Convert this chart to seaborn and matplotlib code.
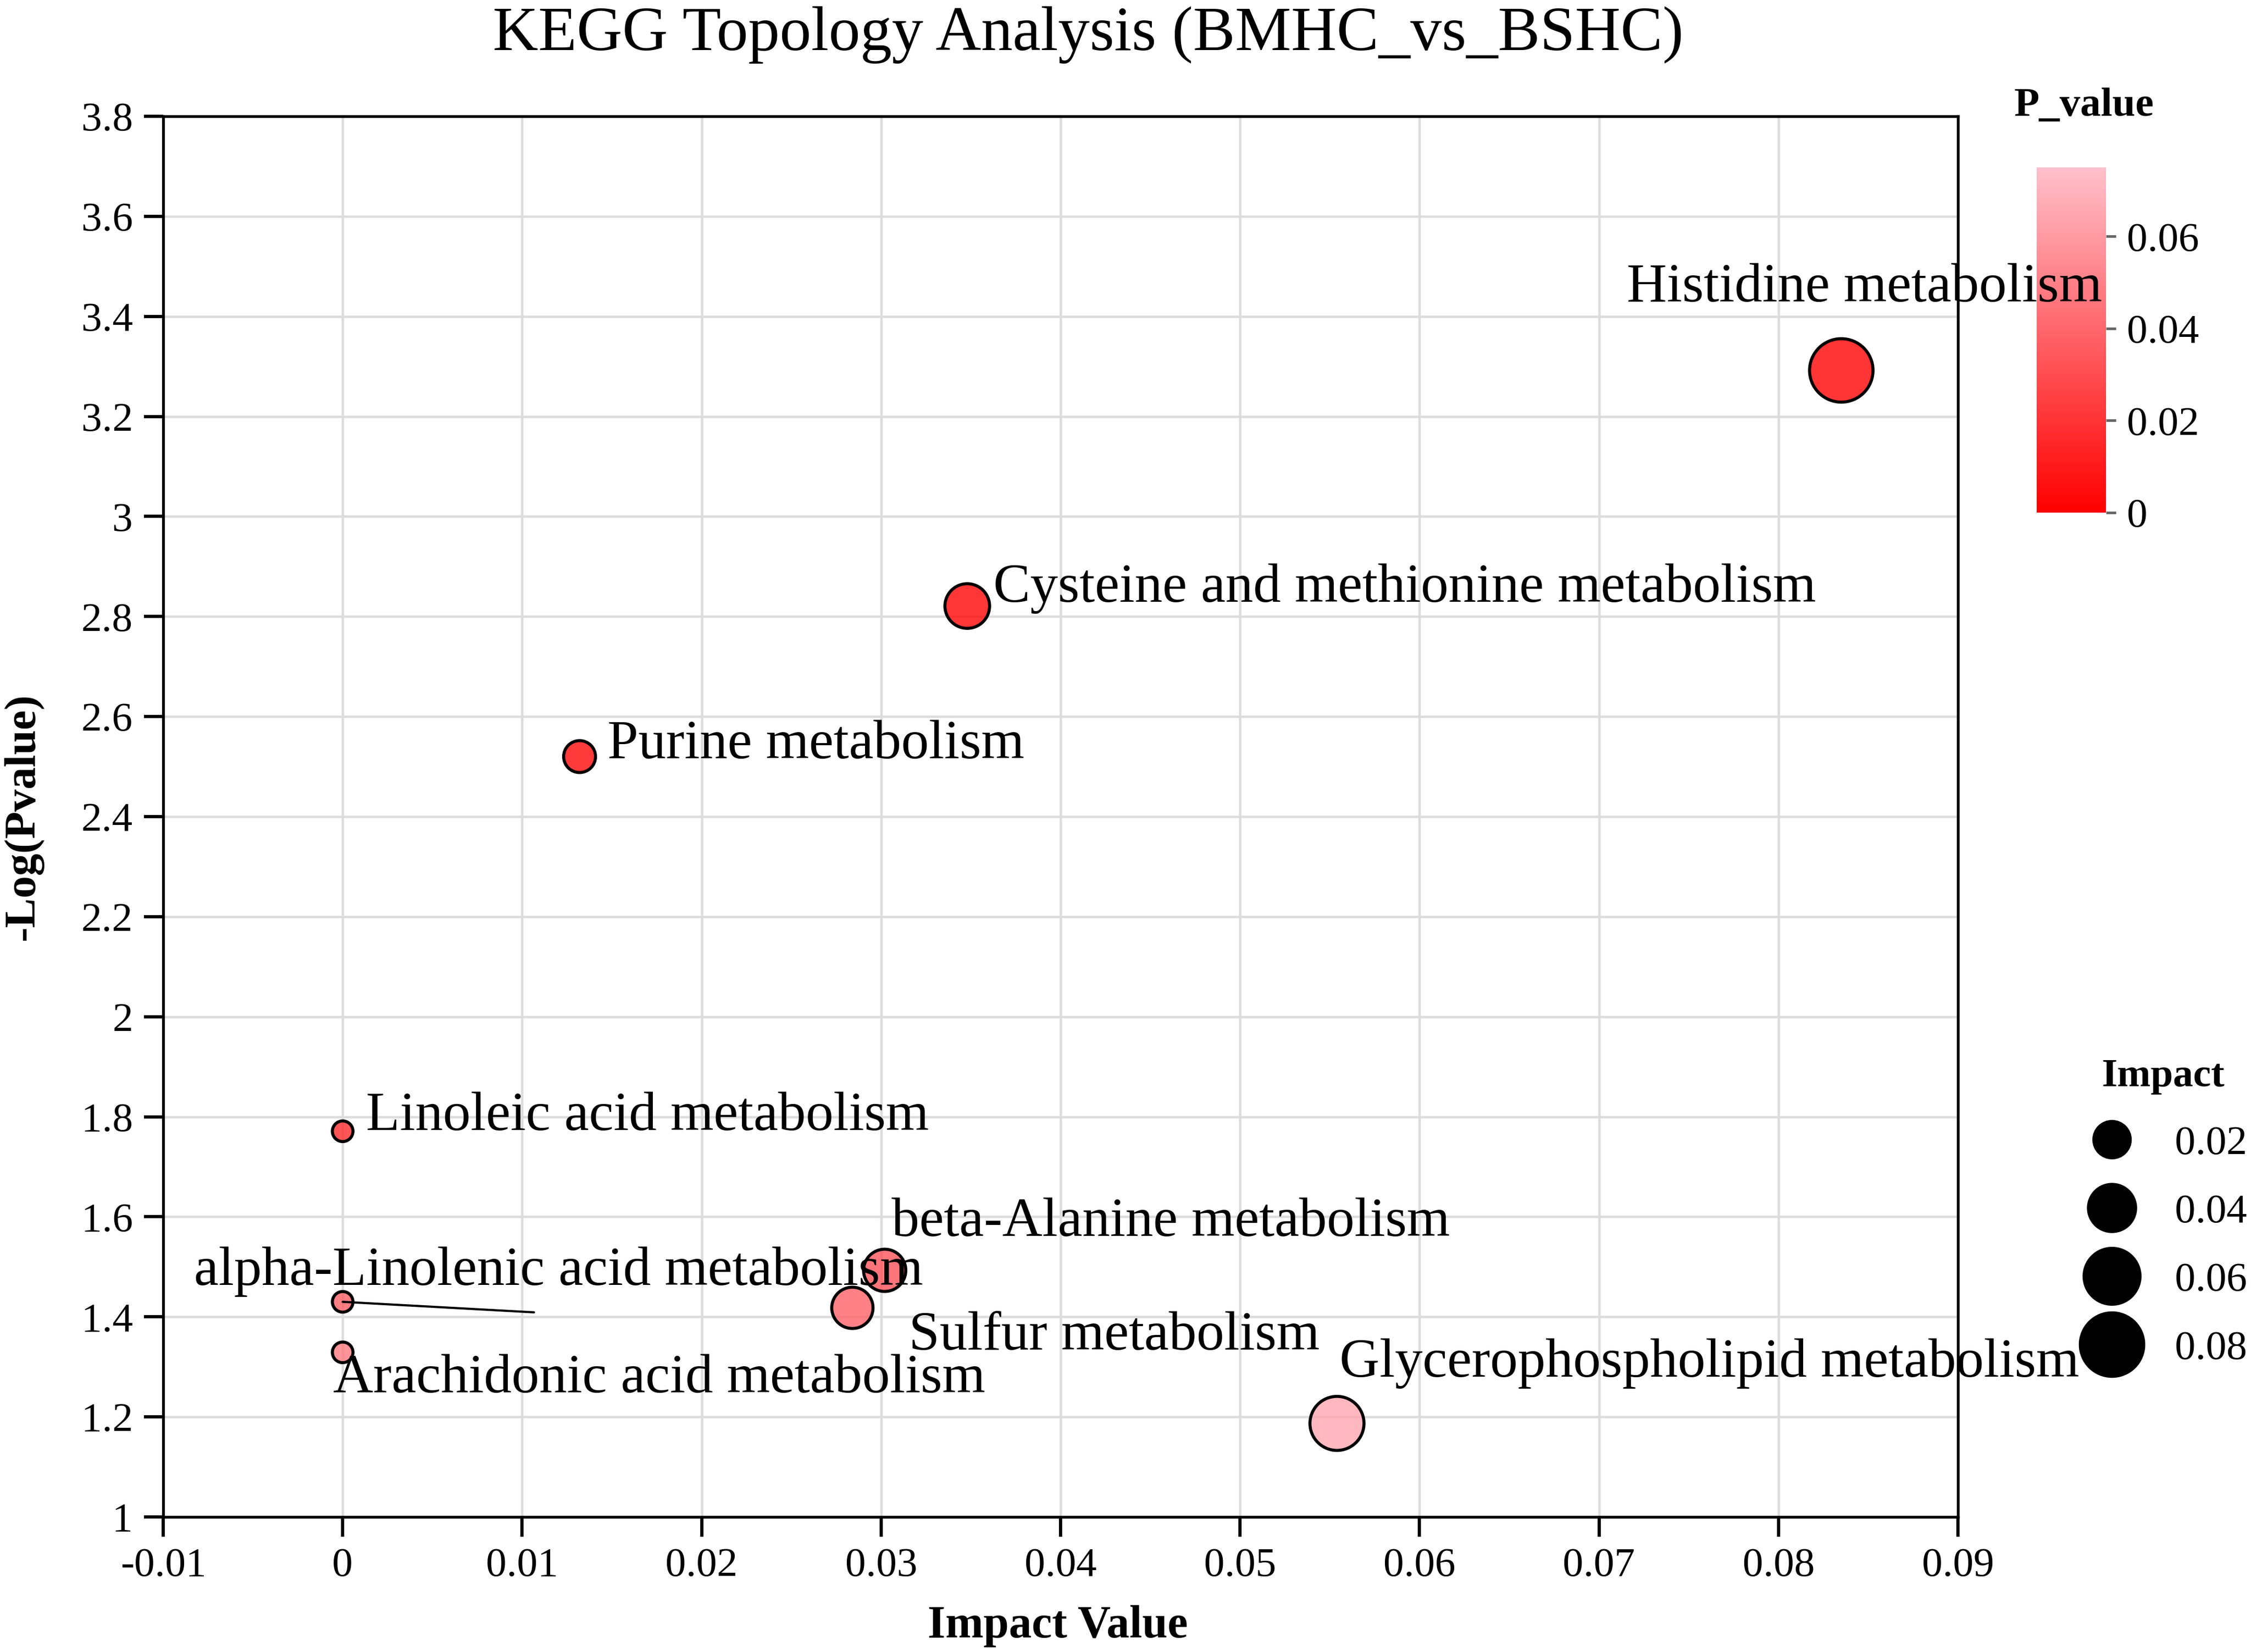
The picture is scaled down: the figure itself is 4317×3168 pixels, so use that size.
import numpy as np
import pandas as pd
import matplotlib
matplotlib.use("Agg")
import matplotlib.pyplot as plt
from matplotlib.colors import LinearSegmentedColormap, Normalize
from matplotlib.cm import ScalarMappable
from matplotlib.lines import Line2D
from matplotlib.ticker import MultipleLocator, FuncFormatter
import seaborn as sns

# valeurs
pathways = [
    "Histidine metabolism",
    "Cysteine and methionine metabolism",
    "Purine metabolism",
    "Linoleic acid metabolism",
    "beta-Alanine metabolism",
    "alpha-Linolenic acid metabolism",
    "Sulfur metabolism",
    "Arachidonic acid metabolism",
    "Glycerophospholipid metabolism",
]
impact = [0.0835, 0.0348, 0.0132, 0.0, 0.0302, 0.0, 0.0284, 0.0, 0.0554]
neg_log_p = [3.292, 2.821, 2.520, 1.771, 1.493, 1.430, 1.418, 1.329, 1.187]
p_value = [0.0005, 0.0015, 0.0030, 0.0169, 0.0321, 0.0372, 0.0382, 0.0469, 0.0650]

legend_impacts = [0.02, 0.04, 0.06, 0.08]
cbar_ticks = [0, 0.02, 0.04, 0.06]

# placement des étiquettes (gauche, ligne de base), en unités des données
label_pos = {
    "Histidine metabolism": (0.07154, 3.430),
    "Cysteine and methionine metabolism": (0.03626, 2.830),
    "Purine metabolism": (0.01474, 2.517),
    "Linoleic acid metabolism": (0.00130, 1.774),
    "beta-Alanine metabolism": (0.03058, 1.562),
    "alpha-Linolenic acid metabolism": (-0.0083, 1.464),
    "Sulfur metabolism": (0.03154, 1.335),
    "Arachidonic acid metabolism": (-0.00054, 1.249),
    "Glycerophospholipid metabolism": (0.05554, 1.280),
}
# segment de rappel (style ggrepel)
segment_end = {"alpha-Linolenic acid metabolism": (0.01066, 1.409)}

df = pd.DataFrame({"Pathway": pathways, "Impact": impact,
                   "negLogP": neg_log_p, "P_value": p_value})

sns.set_style("white")
plt.rcParams["font.family"] = ["Liberation Serif", "DejaVu Serif"]
plt.rcParams.update({"text.color": "black", "axes.labelcolor": "black",
                     "xtick.color": "black", "ytick.color": "black"})

W, H, DPI = 4317, 3168, 300
fig = plt.figure(figsize=(W / DPI, H / DPI), dpi=DPI)
ax = fig.add_axes([313 / W, 1 - 2909 / H, (3755 - 313) / W, (2909 - 223) / H])

cmap = LinearSegmentedColormap.from_list("p_red", ["#FF0000", "#FFC0CB"])
p_norm = (0, 0.075)
size_range = (90, 853)
size_norm = (0, 0.08)

sns.scatterplot(data=df, x="Impact", y="negLogP", hue="P_value", size="Impact",
                palette=cmap, hue_norm=p_norm, sizes=size_range, size_norm=size_norm,
                edgecolor="black", linewidth=1.4, legend=False, ax=ax, zorder=2.5)

# transparence seulement sur le remplissage
coll = ax.collections[0]
fc = coll.get_facecolors().copy()
fc[:, 3] = 0.8
coll.set_facecolors(fc)

for name, xv, yv in zip(pathways, impact, neg_log_p):
    tx, ty = label_pos[name]
    ax.text(tx, ty, name, fontsize=25.5, ha="left", va="baseline", zorder=4)
    if name in segment_end:
        ex, ey = segment_end[name]
        ax.plot([xv, ex], [yv, ey], color="black", lw=1.0, zorder=3)

ax.set_xlim(-0.01, 0.09)
ax.set_ylim(1, 3.8)
ax.xaxis.set_major_locator(MultipleLocator(0.01))
ax.yaxis.set_major_locator(MultipleLocator(0.2))
fmt = FuncFormatter(lambda v, p: f"{round(v, 4) + 0:g}")
ax.xaxis.set_major_formatter(fmt)
ax.yaxis.set_major_formatter(fmt)
ax.tick_params(axis="both", direction="out", length=9, width=1.5, color="black",
               labelcolor="black", labelsize=19, pad=5, bottom=True, left=True)
ax.grid(True, color="#DCDCDC", linewidth=1.1)
ax.set_axisbelow(True)
for sp in ax.spines.values():
    sp.set_visible(True)
    sp.set_color("black")
    sp.set_linewidth(1.3)

ax.set_xlabel("Impact Value", fontsize=21, fontweight="bold")
ax.set_ylabel("-Log(Pvalue)", fontsize=20.5, fontweight="bold")
ax.xaxis.set_label_coords(0.4985, -0.063)
ax.yaxis.set_label_coords(-0.067, 0.5)

fig.text(0.4834, 1 - 96 / H, "KEGG Topology Analysis (BMHC_vs_BSHC)",
         fontsize=29, ha="center", va="baseline")

# barre de couleur P_value
cax = fig.add_axes([3906 / W, 1 - 983 / H, (4039 - 3906) / W, (983 - 321) / H])
sm = ScalarMappable(norm=Normalize(*p_norm), cmap=cmap)
cb = fig.colorbar(sm, cax=cax, ticks=cbar_ticks)
cb.outline.set_visible(False)
cb.ax.yaxis.set_major_formatter(fmt)
cb.ax.tick_params(length=4.5, width=1.2, color="#666666", labelcolor="black",
                  labelsize=19, pad=5)
fig.text(3997 / W, 1 - 222 / H, "P_value", fontsize=19, fontweight="bold",
         ha="center", va="baseline")

# légende des tailles (Impact)
handles = []
for v in legend_impacts:
    s = size_range[0] + (size_range[1] - size_range[0]) * v / size_norm[1]
    handles.append(Line2D([], [], linestyle="none", marker="o", markersize=np.sqrt(s),
                          markerfacecolor="black", markeredgecolor="black",
                          markeredgewidth=1.4))
leg = fig.legend(handles, [f"{v:g}" for v in legend_impacts], title="Impact",
                 loc="upper left", bbox_to_anchor=(0.9235, 1 - 2030 / H),
                 frameon=False, fontsize=19, title_fontproperties={"weight": "bold", "size": 18.5},
                 handlelength=1.6, handletextpad=0.73, labelspacing=0.74, borderpad=0,
                 borderaxespad=0)
leg._legend_box.sep = 14
for t in leg.get_texts():
    t.set_color("black")
leg.get_title().set_color("black")

ax.set_zorder(5)
fig.savefig("out.png", dpi=DPI, facecolor="white")
